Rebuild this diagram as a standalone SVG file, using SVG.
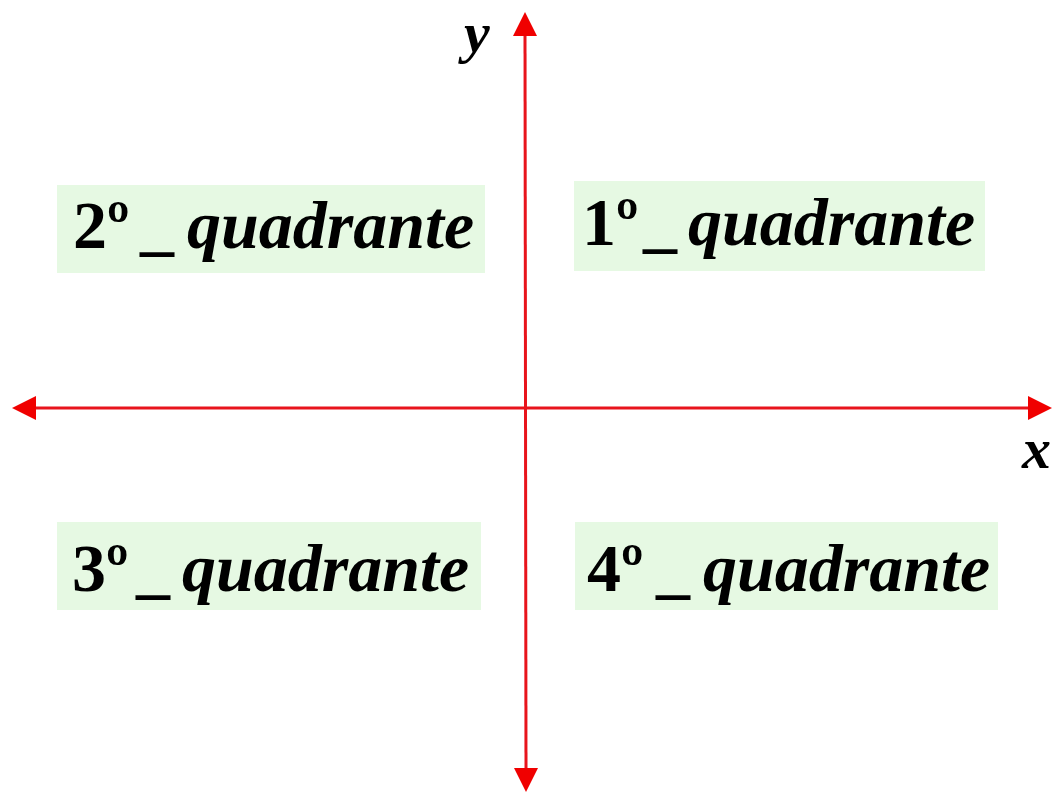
<svg xmlns="http://www.w3.org/2000/svg" width="1055" height="795" viewBox="0 0 1055 795">
  <style>
    .box { fill: #e6f9e3; }
    .num { font-family: "Liberation Serif", serif; font-weight: bold; font-size: 68px; fill: #000; }
    .it { font-family: "Liberation Serif", serif; font-weight: bold; font-style: italic; font-size: 68px; fill: #000; }
    .lbl { font-family: "Liberation Serif", serif; font-weight: bold; font-style: italic; font-size: 58px; fill: #000; }
    .axis { stroke: #e8141c; stroke-width: 3; fill: none; }
    .head { fill: #f00000; }
  </style>
  <rect width="1055" height="795" fill="#ffffff"/>
  <g id="connectors">
    <line class="axis" x1="30" y1="408" x2="1035" y2="408"/>
    <line class="axis" x1="525" y1="30" x2="526" y2="775"/>
    <polygon class="head" points="12,408 36,396 36,420"/>
    <polygon class="head" points="1052,408 1028,396 1028,420"/>
    <polygon class="head" points="525,12 513,36 537,36"/>
    <polygon class="head" points="526,792 514,768 538,768"/>
  </g>
  <g id="label-y">
    <text class="lbl" x="464" y="52">y</text>
  </g>
  <g id="label-x">
    <text class="lbl" x="1022" y="468">x</text>
  </g>
  <g id="q2">
    <rect class="box" x="57" y="185" width="428" height="88"/>
    <text class="num" x="73" y="248">2º</text>
    <text class="num" x="140" y="248">_</text>
    <text class="it" x="187" y="248">quadrante</text>
  </g>
  <g id="q1">
    <rect class="box" x="574" y="181" width="411" height="90"/>
    <text class="num" x="582" y="245">1º</text>
    <text class="num" x="643" y="245">_</text>
    <text class="it" x="688" y="245">quadrante</text>
  </g>
  <g id="q3">
    <rect class="box" x="57" y="522" width="424" height="88"/>
    <text class="num" x="72" y="591">3º</text>
    <text class="num" x="136" y="591">_</text>
    <text class="it" x="182" y="591">quadrante</text>
  </g>
  <g id="q4">
    <rect class="box" x="575" y="522" width="423" height="88"/>
    <text class="num" x="587" y="591">4º</text>
    <text class="num" x="656" y="591">_</text>
    <text class="it" x="703" y="591">quadrante</text>
  </g>
</svg>
